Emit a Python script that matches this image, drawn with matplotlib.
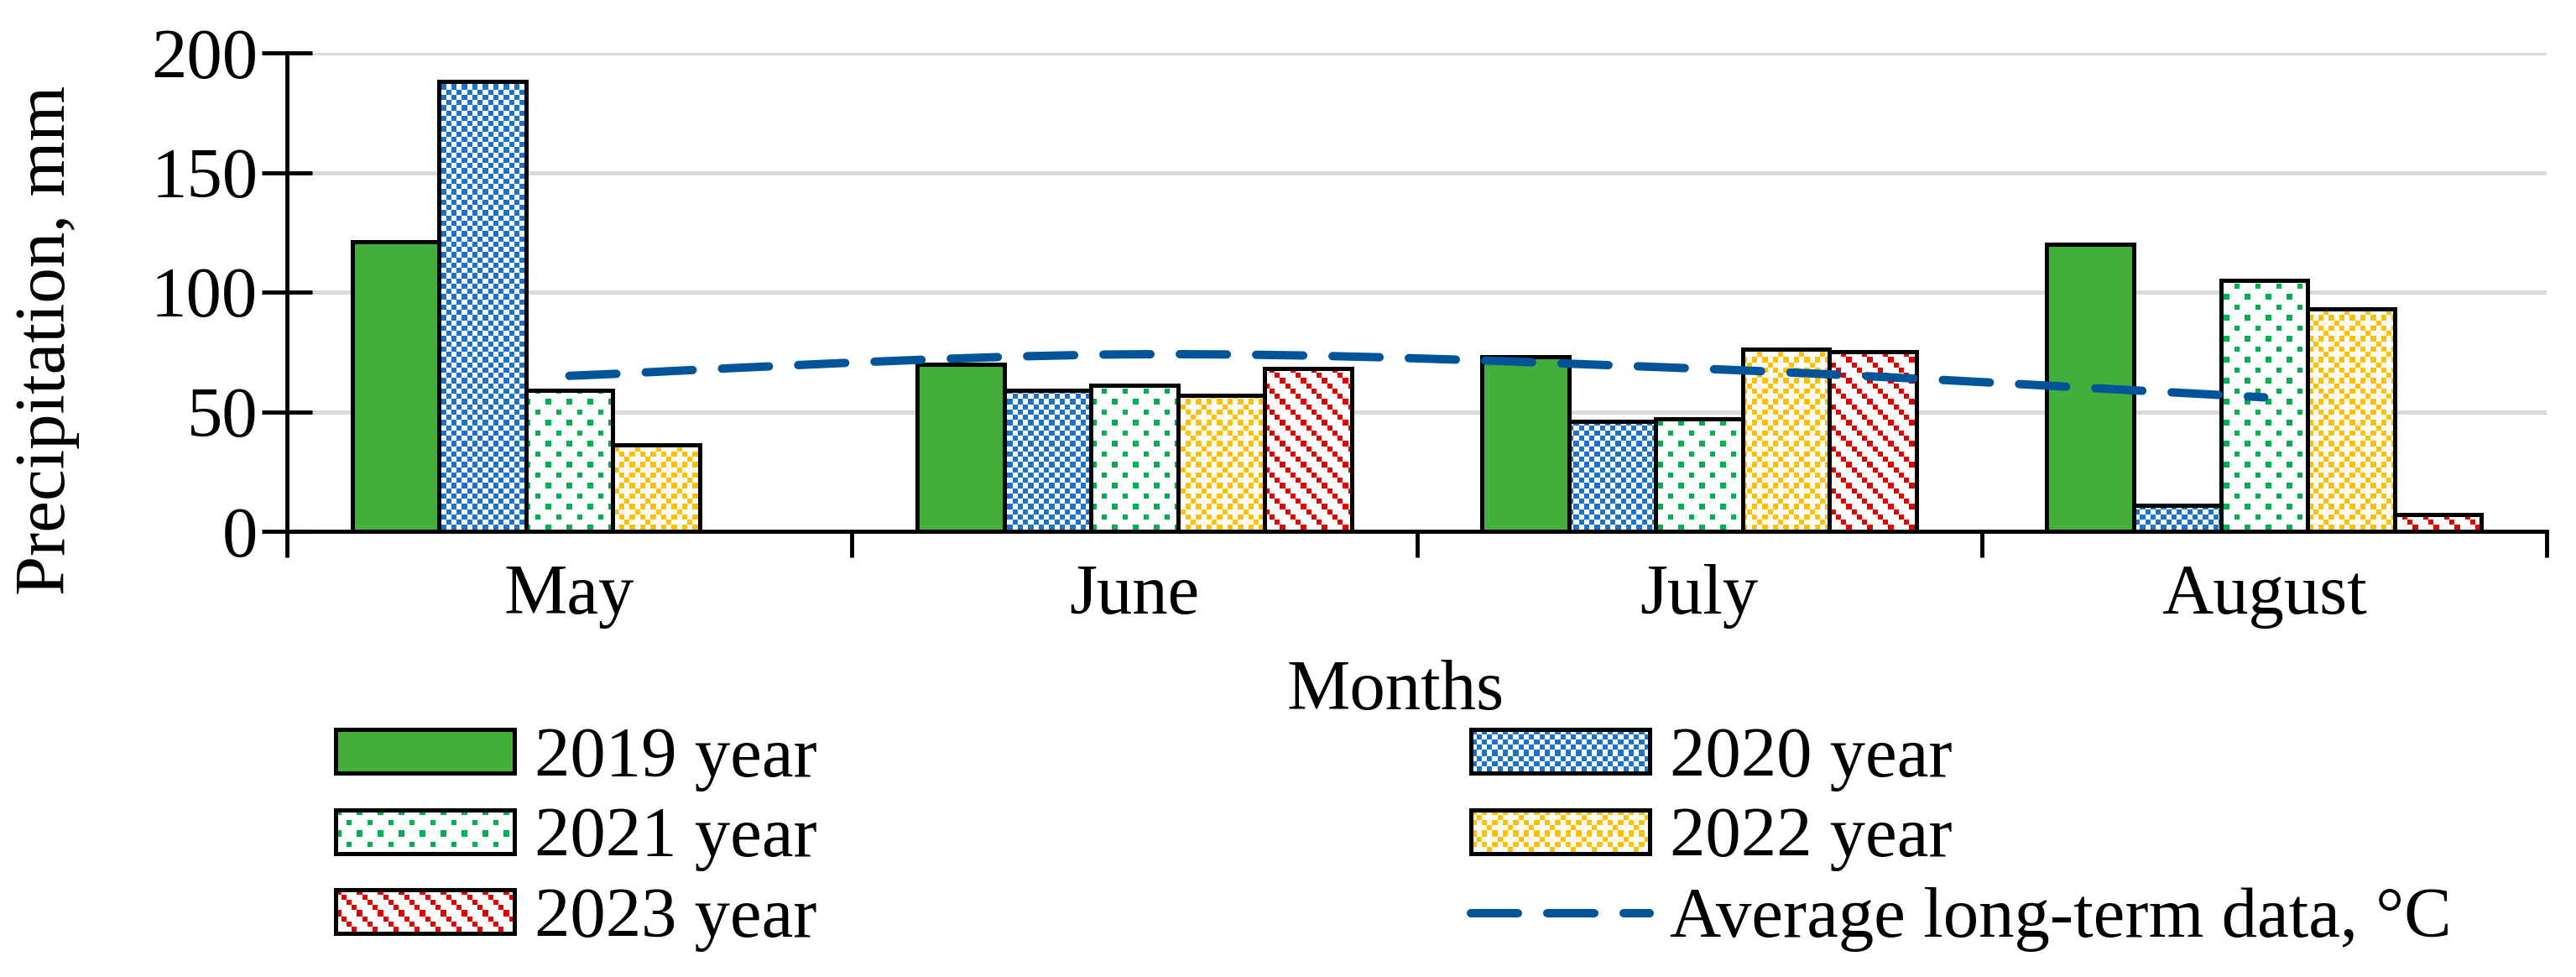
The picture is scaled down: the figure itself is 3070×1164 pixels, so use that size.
import numpy as np
import matplotlib
matplotlib.use('Agg')
import matplotlib.pyplot as plt
from matplotlib.path import Path
from matplotlib.patches import PathPatch, Patch, Rectangle
from matplotlib.lines import Line2D
from matplotlib.colors import to_rgb
from matplotlib.image import BboxImage
from matplotlib.transforms import Bbox, TransformedBbox
from matplotlib.legend_handler import HandlerBase

months = ['May', 'June', 'July', 'August']
years = ['2019 year', '2020 year', '2021 year', '2022 year', '2023 year']
prec_2019 = [121, 70, 73, 120]
prec_2020 = [188, 59, 46, 11]
prec_2021 = [59, 61, 47, 105]
prec_2022 = [36, 57, 76, 93]
prec_2023 = [np.nan, 68, 75, 7]
long_term = [65, 74, 68, 56]
long_term_label = 'Average long-term data, °C'
yticks = [0, 50, 100, 150, 200]

plt.rcParams['font.family'] = ['Liberation Serif', 'DejaVu Serif']

W, H = 3070, 1164          # figure size in px (dpi 100)
AX = (342, 63, 3035, 633)  # plot area in px: left, top, right, bottom
FS = 61
EDGE = 3.6
line_color = '#00559A'
dash = (0, (5.6, 3.5))
PIX = 6.25                 # size of one pattern cell in px


# Excel-like fill patterns (i = column, j = row of pattern cells)
def pat_checker(i, j):
    return (i + j) % 2 == 0


def pat_dots(i, j):
    return ((i % 4 == 0) & (j % 4 == 0)) | ((i % 4 == 2) & (j % 4 == 2))


def pat_diamond(i, j):
    return (((i % 2 == 0) & (j % 2 == 0)) | ((i % 4 == 1) & (j % 4 == 1))
            | ((i % 4 == 3) & (j % 4 == 3)))


def pat_diag(i, j):
    return (i - j) % 4 == 0


def pattern_rgba(func, color, h, w, x0=0, y0=0):
    i = ((np.arange(w) + x0) // PIX).astype(int)[None, :]
    j = ((np.arange(h) + y0) // PIX).astype(int)[:, None]
    mask = np.broadcast_to(func(i, j), (h, w))
    rgba = np.full((h, w, 4), 255, dtype=np.uint8)
    rgba[mask, :3] = (np.array(to_rgb(color)) * 255).astype(np.uint8)
    return rgba


class PatternHandler(HandlerBase):
    def __init__(self, func, color):
        super().__init__()
        self.func = func
        self.color = color

    def create_artists(self, legend, orig_handle, xdescent, ydescent, width, height, fontsize, trans):
        w_px = int(round(width * 100 / 72))
        h_px = int(round(height * 100 / 72))
        bb = TransformedBbox(Bbox.from_bounds(-xdescent, -ydescent, width, height), trans)
        img = BboxImage(bb, interpolation='nearest')
        img.set_data(pattern_rgba(self.func, self.color, h_px, w_px))
        edge = Rectangle((-xdescent, -ydescent), width, height, facecolor='none',
                         edgecolor='black', linewidth=EDGE, transform=trans)
        return [img, edge]


# (solid colour or pattern colour, pattern) per year
styles = [
    ('#43AE3B', None),
    ('#1A73C8', pat_checker),
    ('#00B050', pat_dots),
    ('#FFC000', pat_diamond),
    ('#E00000', pat_diag),
]
series = [prec_2019, prec_2020, prec_2021, prec_2022, prec_2023]

fig = plt.figure(figsize=(W / 100, H / 100), dpi=100)
ax = fig.add_axes([AX[0] / W, 1 - AX[3] / H, (AX[2] - AX[0]) / W, (AX[3] - AX[1]) / H])
ax.set_xlim(-0.5, 3.5)
ax.set_ylim(0, 200)

x = np.arange(len(months))
w = 1 / 6.5
handles = []
handler_map = {}
for i, (vals, (color, func)) in enumerate(zip(series, styles)):
    pos = x + (i - 2) * w
    if func is None:
        ax.bar(pos, vals, w, color=color, edgecolor='black', linewidth=EDGE, zorder=3)
        handles.append(Patch(facecolor=color, edgecolor='black', linewidth=EDGE))
        continue
    bars = ax.bar(pos, vals, w, color='white', edgecolor='black', linewidth=EDGE, zorder=3)
    paths = [b.get_path().transformed(b.get_patch_transform())
             for b, v in zip(bars, vals) if np.isfinite(v)]
    fill = pattern_rgba(func, color, AX[3] - AX[1], AX[2] - AX[0], AX[0], AX[1])
    im = ax.imshow(fill, extent=(-0.5, 3.5, 0, 200), origin='upper', interpolation='nearest',
                   aspect='auto', zorder=3.5)
    im.set_clip_path(Path.make_compound_path(*paths), ax.transData)
    ax.bar(pos, vals, w, facecolor='none', edgecolor='black', linewidth=EDGE, zorder=4)
    h = Patch(facecolor='white')
    handles.append(h)
    handler_map[h] = PatternHandler(func, color)

# smoothed long-term line (Excel style bezier through the points)
pts = np.column_stack([x, long_term]).astype(float)
verts = [pts[0]]
codes = [Path.MOVETO]
for k in range(len(pts) - 1):
    p0 = pts[k - 1] if k > 0 else pts[k]
    p1 = pts[k]
    p2 = pts[k + 1]
    p3 = pts[k + 2] if k + 2 < len(pts) else pts[k + 1]
    verts += [p1 + (p2 - p0) / 6, p2 - (p3 - p1) / 6, p2]
    codes += [Path.CURVE4] * 3
ax.add_patch(PathPatch(Path(verts, codes), fill=False, edgecolor=line_color, linewidth=7.2,
                       linestyle=dash, capstyle='round', zorder=5))
line_handle = Line2D([], [], color=line_color, linewidth=7.2, linestyle=dash,
                     dash_capstyle='round')

ax.set_xlim(-0.5, 3.5)
ax.set_ylim(0, 200)
ax.set_yticks(yticks)
ax.yaxis.grid(True, color='#D9D9D9', linewidth=3.5)
ax.set_axisbelow(True)
ax.spines[['top', 'right']].set_visible(False)
ax.spines['left'].set_linewidth(3.5)
ax.spines['bottom'].set_linewidth(3.5)
ax.tick_params(axis='y', direction='inout', length=43, width=3.5, pad=3.6, labelsize=FS)
ax.set_xticks(np.arange(-0.5, 4, 1))
ax.set_xticklabels([])
ax.tick_params(axis='x', which='major', direction='out', length=22, width=3.5)
ax.set_xticks(x, months, minor=True)
ax.tick_params(axis='x', which='minor', length=0, pad=28, labelsize=FS)

fig.text(57 / W, 1 - 405 / H, 'Precipitation, mm', rotation=90, ha='center', va='center',
         fontsize=FS)
fig.text(1663 / W, 1 - 845 / H, 'Months', ha='center', va='baseline', fontsize=FS)

leg_kw = dict(loc='center left', bbox_transform=fig.transFigure, frameon=False, borderpad=0,
              borderaxespad=0, handlelength=2.51, handleheight=0.568, handletextpad=0.283,
              labelspacing=0.22, fontsize=FS, handler_map=handler_map)
leg1 = ax.legend([handles[0], handles[2], handles[4]], [years[0], years[2], years[4]],
                 bbox_to_anchor=(400 / W, 1 - 1000 / H), **leg_kw)
ax.add_artist(leg1)
ax.legend([handles[1], handles[3], line_handle], [years[1], years[3], long_term_label],
          bbox_to_anchor=(1753 / W, 1 - 1000 / H), **leg_kw)

fig.savefig('out.png', dpi=100)
